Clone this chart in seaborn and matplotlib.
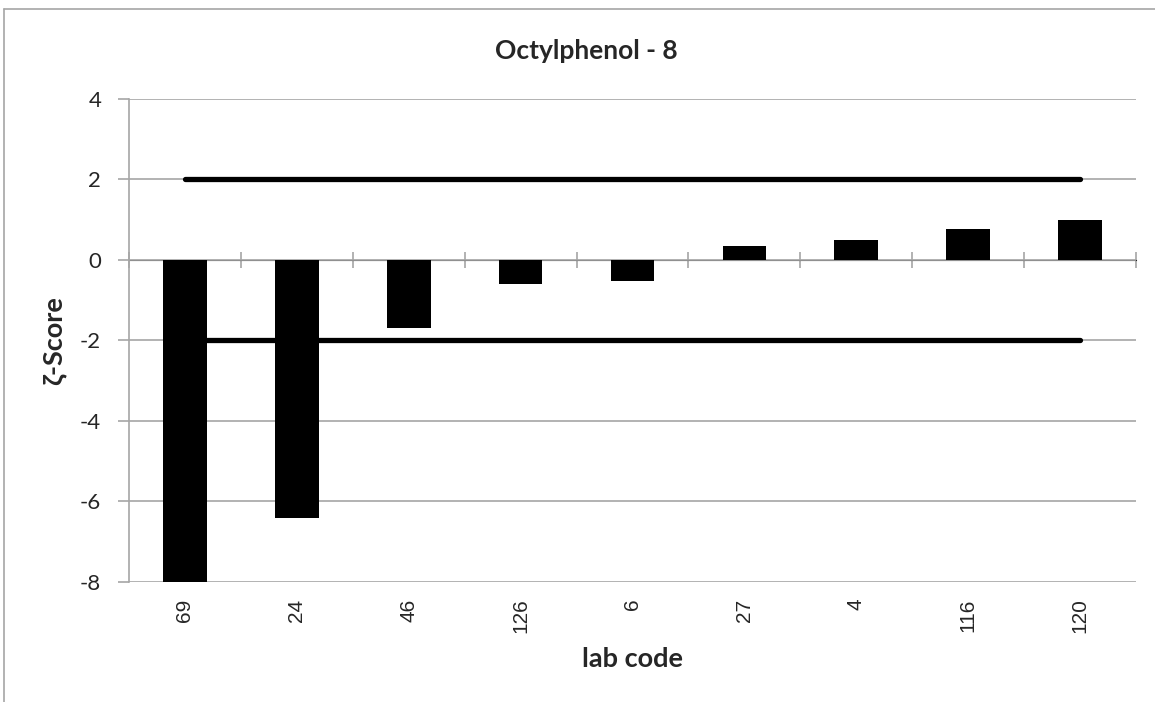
import numpy as np
import matplotlib
matplotlib.use('Agg')
import matplotlib.pyplot as plt
import pandas as pd
import seaborn as sns

# data
lab_codes = ['69', '24', '46', '126', '6', '27', '4', '116', '120']
zeta_scores = [-8.05, -6.42, -1.70, -0.60, -0.52, 0.35, 0.49, 0.76, 1.00]
limits = [2, -2]
y_ticks = [-8, -6, -4, -2, 0, 2, 4]

df = pd.DataFrame({'lab': lab_codes, 'score': zeta_scores})

sns.set_style('white')
plt.rcParams['font.family'] = ['Lato', 'DejaVu Sans']
plt.rcParams['axes.unicode_minus'] = False
grey = '#a6a6a6'

fig = plt.figure(figsize=(11.55, 7.02), dpi=100)
ax = fig.add_axes([0.1117, 0.171, 0.8718, 0.688])

sns.barplot(data=df, x='lab', y='score', order=lab_codes, color='black',
            width=0.39, saturation=1, linewidth=0, ax=ax, zorder=3)
ax.hlines(limits, 0, len(lab_codes) - 1, colors='black', linewidth=3.8, zorder=4,
          capstyle='round')

ax.set_ylim(-8, 4)
ax.set_xlim(-0.5, len(lab_codes) - 0.5)
ax.set_yticks(y_ticks, [str(v) for v in y_ticks], fontsize=16)
ax.set_xticks(range(len(lab_codes)), lab_codes, rotation=90)
for t in ax.get_xticklabels():
    t.set_fontfamily('Liberation Sans')
    t.set_fontsize(15)
ax.yaxis.grid(True, color=grey, linewidth=1.2)
ax.set_axisbelow(True)
for s in ['top', 'right', 'bottom']:
    ax.spines[s].set_visible(False)
ax.spines['left'].set_color(grey)
ax.spines['left'].set_linewidth(1.2)
ax.tick_params(axis='y', direction='out', length=8, color=grey, width=1.2,
               pad=12, left=True)
ax.tick_params(axis='x', length=0, pad=12)

# category axis crossing at zero, Excel style
sec = ax.secondary_xaxis((0 - (-8)) / 12)
sec.set_xticks(np.arange(len(lab_codes) + 1) - 0.5)
sec.set_xticklabels([])
sec.spines['bottom'].set_color(grey)
sec.spines['bottom'].set_linewidth(1.2)
sec.tick_params(direction='out', length=6, color=grey, width=1.2, bottom=True)

ax.set_title('Octylphenol - 8', fontsize=19, fontweight='bold', pad=29, x=0.454)
ax.set_xlabel('lab code', fontsize=19.5, fontweight='bold', labelpad=10)
ax.set_ylabel('ζ-Score', fontsize=19.5, fontweight='bold', labelpad=10)

# chart area border (left and top visible)
fig.add_artist(plt.Line2D([0.0035, 0.0035], [0, 0.987], color=grey, linewidth=1.2))
fig.add_artist(plt.Line2D([0.0035, 1], [0.987, 0.987], color=grey, linewidth=1.2))

fig.savefig('out.png', dpi=100)
